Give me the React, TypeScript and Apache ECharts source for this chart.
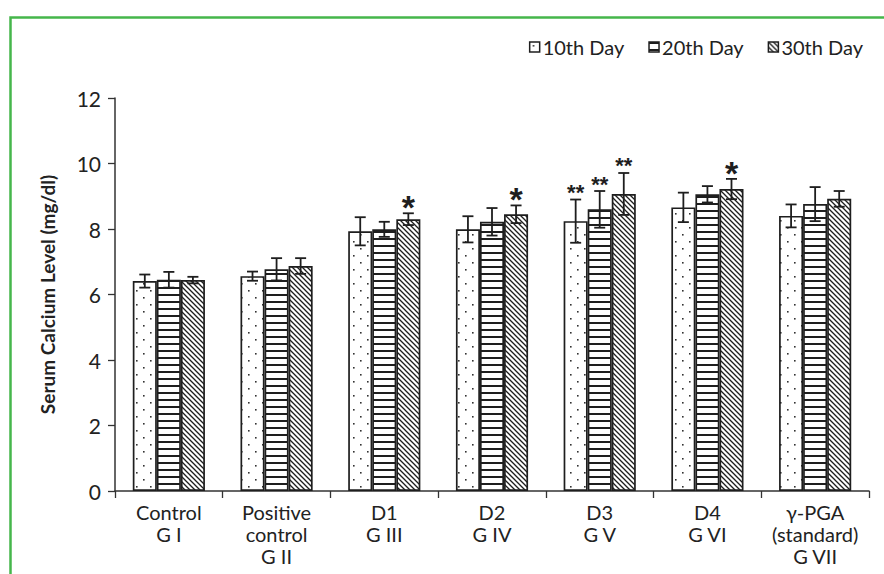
import React, { useEffect, useRef } from "react";
import * as echarts from "echarts";

const categories = [
  "Control\nG I",
  "Positive\ncontrol\nG II",
  "D1\nG III",
  "D2\nG IV",
  "D3\nG V",
  "D4\nG VI",
  "γ-PGA\n(standard)\nG VII",
];
const seriesNames = ["10th Day", "20th Day", "30th Day"];
const mean10 = [6.41, 6.56, 7.93, 7.99, 8.24, 8.66, 8.4];
const sd10 = [0.2, 0.14, 0.43, 0.4, 0.66, 0.45, 0.35];
const mean20 = [6.45, 6.77, 7.99, 8.22, 8.6, 9.06, 8.76];
const sd20 = [0.24, 0.34, 0.23, 0.42, 0.56, 0.25, 0.52];
const mean30 = [6.44, 6.87, 8.3, 8.45, 9.07, 9.22, 8.92];
const sd30 = [0.1, 0.24, 0.18, 0.27, 0.64, 0.31, 0.24];
const sig10 = ["", "", "", "", "**", "", ""];
const sig20 = ["", "", "", "", "**", "", ""];
const sig30 = ["", "", "*", "*", "**", "*", ""];
const yTicks = { min: 0, max: 12, interval: 2 };

const FONT = "Lato, 'Open Sans', sans-serif";
const STAR_FONT = "'Liberation Sans', Arial, sans-serif";
const INK = "#1e1e1e";
const CAT_GAP = 0.33;

function makePattern(kind: string): HTMLCanvasElement {
  const c = document.createElement("canvas");
  const ctx = c.getContext("2d")!;
  if (kind === "dots") {
    c.width = 14;
    c.height = 14;
    ctx.fillStyle = "#ffffff";
    ctx.fillRect(0, 0, 14, 14);
    ctx.fillStyle = "#333";
    ctx.fillRect(3, 3, 1.6, 1.6);
    ctx.fillRect(10, 10, 1.6, 1.6);
  } else if (kind === "hlines") {
    c.width = 8;
    c.height = 7;
    ctx.fillStyle = "#ffffff";
    ctx.fillRect(0, 0, 8, 7);
    ctx.fillStyle = "#1e1e1e";
    ctx.fillRect(0, 0, 8, 2);
  } else {
    c.width = 5;
    c.height = 5;
    ctx.fillStyle = "#ffffff";
    ctx.fillRect(0, 0, 5, 5);
    ctx.strokeStyle = "#1e1e1e";
    ctx.lineWidth = 1.3;
    ctx.beginPath();
    ctx.moveTo(-1, -1);
    ctx.lineTo(6, 6);
    ctx.moveTo(-1, 4);
    ctx.lineTo(1, 6);
    ctx.moveTo(4, -1);
    ctx.lineTo(6, 1);
    ctx.stroke();
  }
  return c;
}

export default function App() {
  const ref = useRef<HTMLDivElement>(null);
  useEffect(() => {
    if (!ref.current) return;
    const chart = echarts.init(ref.current, null, { renderer: "svg" });
    const patterns = [makePattern("dots"), makePattern("hlines"), makePattern("diag")];
    const means = [mean10, mean20, mean30];
    const sds = [sd10, sd20, sd30];
    const sigs = [sig10, sig20, sig30];

    const barSeries = seriesNames.map((name, i) => ({
      name,
      type: "bar",
      data: means[i],
      barGap: "0%",
      barCategoryGap: CAT_GAP * 100 + "%",
      itemStyle: {
        color: { image: patterns[i], repeat: "repeat" },
        borderColor: INK,
        borderWidth: 1.7,
      },
      emphasis: { disabled: true },
    }));

    const errSeries = seriesNames.map((name, i) => ({
      name: name + " err",
      type: "custom",
      z: 5,
      data: means[i].map((m, k) => [k, m, sds[i][k]]),
      renderItem: (params: any, api: any) => {
        const idx = api.value(0);
        const m = api.value(1);
        const s = api.value(2);
        const cx0 = api.coord([idx, 0])[0];
        const catW = api.size([1, 0])[0];
        const usable = catW * (1 - CAT_GAP);
        const bw = usable / 3;
        const cx = cx0 - usable / 2 + bw * (i + 0.5);
        const top = api.coord([idx, m + s])[1];
        const bot = api.coord([idx, m - s])[1];
        const cap = 5.5;
        const st = { stroke: INK, lineWidth: 1.8 };
        const children: any[] = [
          { type: "line", shape: { x1: cx, y1: top, x2: cx, y2: bot }, style: st },
          { type: "line", shape: { x1: cx - cap, y1: top, x2: cx + cap, y2: top }, style: st },
          { type: "line", shape: { x1: cx - cap, y1: bot, x2: cx + cap, y2: bot }, style: st },
        ];
        const sg = sigs[i][idx];
        if (sg) {
          const big = sg === "*";
          children.push({
            type: "text",
            x: cx,
            y: top - (big ? 6 : 7),
            style: {
              text: sg,
              fill: INK,
              font: `bold ${big ? 34 : 22}px ${STAR_FONT}`,
              align: "center",
              verticalAlign: "middle",
            },
          });
        }
        return { type: "group", children };
      },
      silent: true,
    }));

    chart.setOption({
      animation: false,
      backgroundColor: "#ffffff",
      graphic: [
        {
          type: "rect",
          left: 8,
          top: 15,
          shape: { x: 0, y: 0, width: 900, height: 600 },
          style: { fill: "none", stroke: "#45b64b", lineWidth: 2.5 },
          silent: true,
        },
      ],
      legend: {
        data: seriesNames,
        right: 16,
        top: 32,
        itemWidth: 10,
        itemHeight: 10,
        itemGap: 24,
        icon: "rect",
        itemStyle: { borderColor: INK, borderWidth: 1.5 },
        textStyle: { fontFamily: FONT, fontSize: 20, color: "#222", padding: [0, 0, 0, -2] },
      },
      grid: { left: 115, right: 15, top: 98, bottom: 83, containLabel: false },
      xAxis: {
        type: "category",
        data: categories,
        axisLine: { lineStyle: { color: "#333", width: 1.5 } },
        axisTick: { show: true, length: 7, lineStyle: { color: "#333", width: 1.3 } },
        axisLabel: {
          interval: 0,
          fontFamily: FONT,
          fontSize: 20,
          lineHeight: 22,
          color: "#222",
          margin: 10,
        },
      },
      yAxis: {
        type: "value",
        min: yTicks.min,
        max: yTicks.max,
        interval: yTicks.interval,
        name: "Serum Calcium Level (mg/dl)",
        nameLocation: "middle",
        nameGap: 58,
        nameTextStyle: { fontFamily: FONT, fontSize: 19, fontWeight: "bold", color: "#222" },
        axisLine: { show: true, lineStyle: { color: "#333", width: 1.5 } },
        axisTick: { show: true, length: 7, lineStyle: { color: "#333", width: 1.3 } },
        splitLine: { show: false },
        axisLabel: { fontFamily: FONT, fontSize: 21, color: "#222", margin: 14 },
      },
      series: [...barSeries, ...errSeries],
    });
    return () => chart.dispose();
  }, []);
  return (
    <div
      ref={ref}
      style={{ position: "fixed", left: 0, top: 0, width: 884, height: 574, background: "#fff" }}
    />
  );
}
